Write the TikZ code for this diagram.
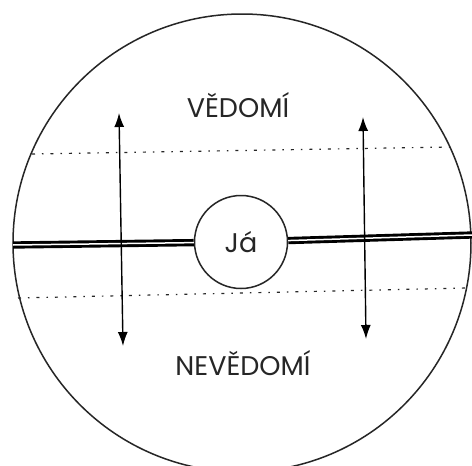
\documentclass[tikz,border=0pt]{standalone}
\usepackage{fontspec}
\setmainfont{Poppins}
\usetikzlibrary{arrows.meta}
\tikzset{
  outline/.style={draw=black!85, line width=1.5pt},
  egoline/.style={draw=black, line width=2.9pt, double=white, double distance=1.5pt},
  levelline/.style={draw=black!85, line width=1.2pt, dash pattern=on 3pt off 7pt on 1.5pt off 7pt},
  flow/.style={draw=black, line width=1.4pt, {Latex[length=14pt,width=10pt]}-{Latex[length=14pt,width=10pt]}},
  label/.style={font=\fontsize{27}{32}\selectfont, text=black!85, inner sep=0pt}
}
\begin{document}
\begin{tikzpicture}[x=1pt,y=-1pt]
\useasboundingbox (0,0) rectangle (472,466);
\fill[white] (0,0) rectangle (472,466);
% outer circle
\draw[outline] (242,243) circle[radius=229pt];
% level lines
\coordinate (u1) at (32,154);
\coordinate (u2) at (450,147);
\coordinate (d1) at (18,298);
\coordinate (d2) at (467,288);
\draw[levelline] (u1) -- (u2);
\draw[levelline] (d1) -- (d2);
% ego
\node[circle, outline, minimum size=93pt, inner sep=0pt, label] (ja) at (241,242) {Já};
\coordinate (L) at (13,245);
\coordinate (R) at (472,235);
\draw[egoline] (L) -- (ja);
\draw[egoline] (ja) -- (R);
% arrows
\coordinate (a1) at (119,113);
\coordinate (a2) at (123,346);
\coordinate (b1) at (363,117);
\coordinate (b2) at (366,339);
\draw[flow] (a1) -- (a2);
\draw[flow] (b1) -- (b2);
% labels
\node[label] (ved) at (238,105) {VĚDOMÍ};
\node[label] (neved) at (243,363) {NEVĚDOMÍ};
\end{tikzpicture}
\end{document}
